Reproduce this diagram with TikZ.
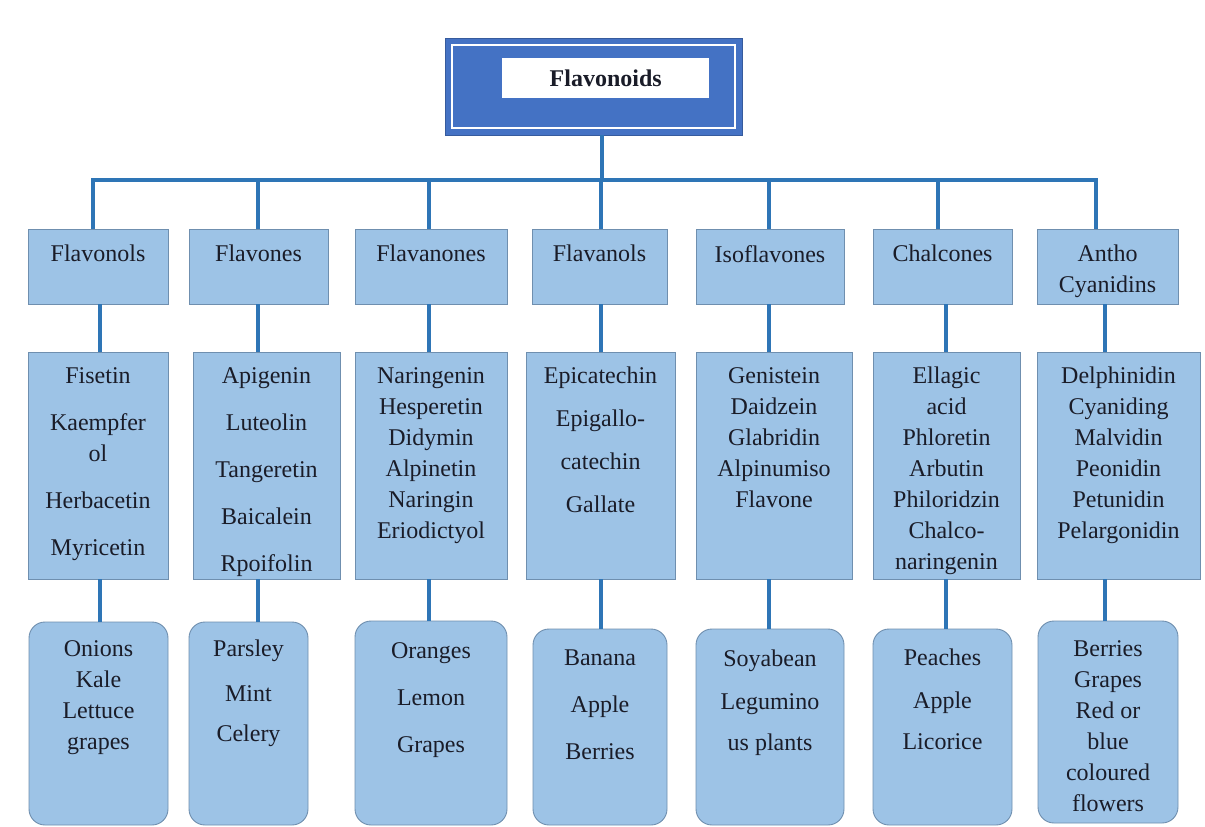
\documentclass[tikz,border=0pt]{standalone}
\usepackage{fontspec}
\setmainfont{Liberation Serif}
\definecolor{boxfill}{HTML}{9DC3E6}
\definecolor{boxline}{HTML}{6F8FAF}
\definecolor{linecol}{HTML}{2E75B6}
\definecolor{rootfill}{HTML}{4472C4}
\definecolor{txtcol}{HTML}{1A1C28}
\begin{document}
\begin{tikzpicture}[x=1pt,y=-1pt,
  box/.style={draw=boxline, fill=boxfill, line width=0.9pt, anchor=north west, inner sep=0pt, outer sep=0pt},
  rbox/.style={box, rounded corners=16pt},
  txt/.style={anchor=north, inner sep=0pt, align=center, font=\fontsize{24}{31}\selectfont, text=txtcol},
  conn/.style={draw=linecol, line width=3.2pt}]
\useasboundingbox[fill=white] (0,0) rectangle (1205,827);

% root
\node[box, draw=rootfill!80!black, fill=rootfill, minimum width=297, minimum height=97] (root) at (445,38) {};
\draw[white, line width=1.8pt] ([shift={(7,7)}]root.north west) rectangle ([shift={(-7,-7)}]root.south east);
\node[anchor=north west, fill=white, inner sep=0pt, minimum width=207, minimum height=40,
      font=\fontsize{24}{28}\selectfont\bfseries, text=txtcol] (rootlbl) at (502,58) {Flavonoids};

% row 1
\node[box, minimum width=140, minimum height=75] (c1) at (28,229) {};
\node[box, minimum width=139, minimum height=75] (c2) at (189,229) {};
\node[box, minimum width=152, minimum height=75] (c3) at (355,229) {};
\node[box, minimum width=135, minimum height=75] (c4) at (532,229) {};
\node[box, minimum width=148, minimum height=75] (c5) at (696,229) {};
\node[box, minimum width=139, minimum height=75] (c6) at (873,229) {};
\node[box, minimum width=141, minimum height=75] (c7) at (1037,229) {};

% row 2
\node[box, minimum width=140, minimum height=227] (d1) at (28,352) {};
\node[box, minimum width=147, minimum height=227] (d2) at (193,352) {};
\node[box, minimum width=152, minimum height=227] (d3) at (355,352) {};
\node[box, minimum width=149, minimum height=227] (d4) at (526,352) {};
\node[box, minimum width=156, minimum height=227] (d5) at (696,352) {};
\node[box, minimum width=147, minimum height=227] (d6) at (873,352) {};
\node[box, minimum width=163, minimum height=227] (d7) at (1037,352) {};

% row 3
\node[rbox, minimum width=139, minimum height=203] (e1) at (29,622) {};
\node[rbox, minimum width=119, minimum height=203] (e2) at (189,622) {};
\node[rbox, minimum width=152, minimum height=204] (e3) at (355,621) {};
\node[rbox, minimum width=134, minimum height=196] (e4) at (533,629) {};
\node[rbox, minimum width=148, minimum height=196] (e5) at (696,629) {};
\node[rbox, minimum width=139, minimum height=196] (e6) at (873,629) {};
\node[rbox, minimum width=140, minimum height=202] (e7) at (1038,621) {};

% connectors
\coordinate (hl) at (93,180);
\coordinate (hr) at (1096,180);
\draw[conn] (root.south -| 602,0) -- (hl -| 602,0);
\draw[conn, line cap=rect] (hl) -- (hr);
\foreach \n/\x in {c1/93,c2/258,c3/429,c4/601,c5/769,c6/938,c7/1096}
  \draw[conn] (hl -| \x,0) -- (\n.north -| \x,0);
\foreach \a/\b/\x in {c1/d1/100,c2/d2/258,c3/d3/429,c4/d4/601,c5/d5/769,c6/d6/946,c7/d7/1105}
  \draw[conn] (\a.south -| \x,0) -- (\b.north -| \x,0);
\foreach \a/\b/\x in {d1/e1/100,d2/e2/258,d3/e3/429,d4/e4/601,d5/e5/769,d6/e6/946,d7/e7/1105}
  \draw[conn] (\a.south -| \x,0) -- (\b.north -| \x,0);

% row 1 texts
\node[txt] (tc1) at (c1.north |- 0,245) {Flavonols};
\node[txt] (tc2) at (c2.north |- 0,245) {Flavones};
\node[txt] (tc3) at (c3.north |- 0,245) {Flavanones};
\node[txt] (tc4) at (c4.north |- 0,245) {Flavanols};
\node[txt] (tc5) at (c5.north |- 0,245) {Isoflavones};
\node[txt] (tc6) at (c6.north |- 0,245) {Chalcones};
\node[txt] (tc7) at (c7.north |- 0,245) {Antho\\Cyanidins};

% row 2 texts
\node[txt] (td1) at (d1.north |- 0,367) {Fisetin\\[16pt]Kaempfer\\ol\\[16pt]Herbacetin\\[16pt]Myricetin};
\node[txt] (td2) at (d2.north |- 0,367) {Apigenin\\[16pt]Luteolin\\[16pt]Tangeretin\\[16pt]Baicalein\\[16pt]Rpoifolin};
\node[txt] (td3) at (d3.north |- 0,367) {Naringenin\\Hesperetin\\Didymin\\Alpinetin\\Naringin\\Eriodictyol};
\node[txt] (td4) at (d4.north |- 0,367) {Epicatechin\\[12pt]Epigallo-\\[12pt]catechin\\[12pt]Gallate};
\node[txt] (td5) at (d5.north |- 0,367) {Genistein\\Daidzein\\Glabridin\\Alpinumiso\\Flavone};
\node[txt] (td6) at (d6.north |- 0,367) {Ellagic\\acid\\Phloretin\\Arbutin\\Philoridzin\\Chalco-\\naringenin};
\node[txt] (td7) at (d7.north |- 0,367) {Delphinidin\\Cyaniding\\Malvidin\\Peonidin\\Petunidin\\Pelargonidin};

% row 3 texts
\node[txt] (te1) at (e1.north |- 0,640) {Onions\\Kale\\Lettuce\\grapes};
\node[txt] (te2) at (e2.north |- 0,640) {Parsley\\[14pt]Mint\\[9pt]Celery};
\node[txt] (te3) at (e3.north |- 0,642) {Oranges\\[16pt]Lemon\\[16pt]Grapes};
\node[txt] (te4) at (e4.north |- 0,650) {Banana\\[16pt]Apple\\[16pt]Berries};
\node[txt] (te5) at (e5.north |- 0,650) {Soyabean\\[12pt]Legumino\\[10pt]us plants};
\node[txt] (te6) at (e6.north |- 0,649) {Peaches\\[12pt]Apple\\[10pt]Licorice};
\node[txt] (te7) at (e7.north |- 0,640) {Berries\\Grapes\\Red or\\blue\\coloured\\flowers};
\end{tikzpicture}
\end{document}
